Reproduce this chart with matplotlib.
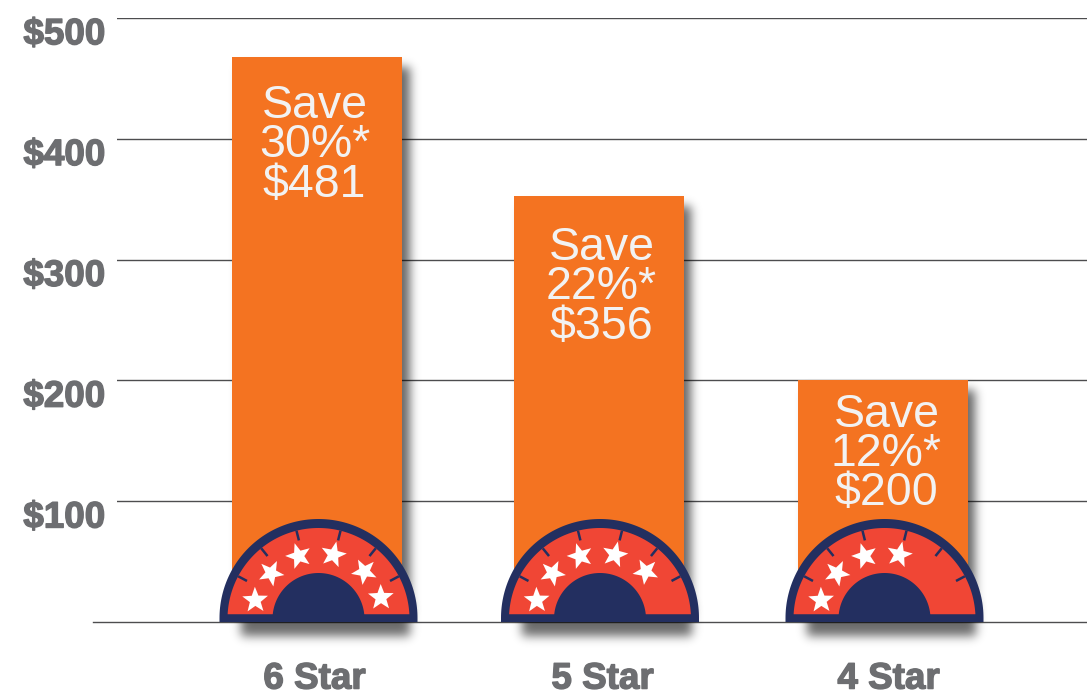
import numpy as np
import matplotlib
matplotlib.use('Agg')
import matplotlib.pyplot as plt
from matplotlib.patches import Polygon
from matplotlib.transforms import Affine2D, ScaledTranslation
import matplotlib.patheffects as pe

categories = ['6 Star', '5 Star', '4 Star']
bar_heights = [468, 353, 200]
save_lines = [['Save', '30%*', '$481'],
              ['Save', '22%*', '$356'],
              ['Save', '12%*', '$200']]
star_counts = [6, 5, 4]
y_ticks = [100, 200, 300, 400, 500]
y_labels = ['$100', '$200', '$300', '$400', '$500']

ORANGE = '#F47321'
RED = '#F04635'
NAVY = '#232F60'
GREY = '#6D6E71'

W, H = 1087, 695
PX_X = 283.0       # pixels per category
PX_Y = 604 / 500   # pixels per dollar
BASE = 622
LEFT = 117
X0 = 316.5         # pixel of first category

# pixel layout of the text inside the bars and the gauge offsets
bar_dx = [0.5, -1, 0]
text_dx = [-2, 2, 4]
text_drop = [140, 143, 125]   # bar top to baseline of the last line
gauge_dx = [2, 0.5, 2]
label_dx = [-2, 3, 6]
star_angles = [163.5, 136, 107.5, 77, 46, 19]
tick_angles = [152, 129, 104, 76, 51, 28]

fig = plt.figure(figsize=(W / 100, H / 100), dpi=100)
ax = fig.add_axes([LEFT / W, (H - BASE) / H, (W - LEFT) / W, 604 / H])
ax.set_ylim(0, 500)
ax.set_xlim((LEFT - X0) / PX_X, (W - X0) / PX_X)
for s in ax.spines.values():
    s.set_visible(False)
ax.set_yticks(y_ticks)
ax.set_yticklabels(y_labels)
ax.set_xticks(range(len(categories)))
ax.set_xticklabels(categories)
ax.tick_params(length=0)
ax.tick_params(axis='y', pad=8.5)
ax.tick_params(axis='x', pad=28.5)
ax.yaxis.grid(True, color='#4d4d4f', lw=1.0, zorder=1)
ax.set_axisbelow(True)

stroke = [pe.withStroke(linewidth=1.0, foreground=GREY)]
for lab in ax.get_yticklabels() + ax.get_xticklabels():
    lab.set_fontfamily('Liberation Sans')
    lab.set_fontweight('bold')
    lab.set_fontsize(26.5)
    lab.set_color(GREY)
    lab.set_path_effects(stroke)
for lab in ax.get_yticklabels():
    lab.set_verticalalignment('top')
    lab.set_transform(lab.get_transform() + ScaledTranslation(0, 0.5 / 72, fig.dpi_scale_trans))
for lab, dx in zip(ax.get_xticklabels(), label_dx):
    lab.set_transform(lab.get_transform() + ScaledTranslation(dx / 100, 0, fig.dpi_scale_trans))

# baseline runs further left than the grid
ax.plot([(93 - X0) / PX_X, (W - X0) / PX_X], [0, 0], color='#4d4d4f', lw=1.0,
        clip_on=False, zorder=1.5)

# shadows are blurred masks on the pixel grid of the figure
yy, xx = np.mgrid[0:H, 0:W] + 0.5
kernel = np.exp(-0.5 * (np.arange(-15, 16) / 5.0) ** 2)
kernel = kernel / kernel.sum()


def blur(mask):
    out = np.apply_along_axis(lambda r: np.convolve(r, kernel, mode='same'), 1, mask)
    return np.apply_along_axis(lambda c: np.convolve(c, kernel, mode='same'), 0, out)


def show_shadow(mask, alpha, z):
    rgba = np.zeros((H, W, 4))
    rgba[..., 3] = blur(mask) * alpha
    ext = [(0 - X0) / PX_X, (W - X0) / PX_X, (BASE - H) / PX_Y, BASE / PX_Y]
    im = ax.imshow(rgba, extent=ext, aspect='auto', zorder=z, interpolation='nearest')
    im.set_clip_on(False)


def star_points(cx, cy, r, rot):
    a = np.radians(90 + rot + np.arange(10) * 36)
    rad = np.where(np.arange(10) % 2 == 0, r, r * 0.42)
    return np.column_stack([cx + rad * np.cos(a), cy + rad * np.sin(a)])


bar_mask = np.zeros((H, W))
gauge_mask = np.zeros((H, W))
for i, h in enumerate(bar_heights):
    cx = X0 + i * PX_X + bar_dx[i] + 8
    bar_mask[(np.abs(xx - cx) < 85) & (yy > BASE - h * PX_Y + 10) & (yy < BASE - 8)] = 1
    gx = X0 + i * PX_X + gauge_dx[i]
    gauge_mask[(xx > gx - 78) & (xx < gx + 92) & (yy > BASE - 20) & (yy < BASE + 14)] = 1
show_shadow(bar_mask, 0.6, 2)
show_shadow(gauge_mask, 0.58, 4)
ax.set_xlim((LEFT - X0) / PX_X, (W - X0) / PX_X)
ax.set_ylim(0, 500)

for i, (cat, h) in enumerate(zip(categories, bar_heights)):
    ax.bar(i + bar_dx[i] / PX_X, h, width=170 / PX_X, color=ORANGE, zorder=3)

    # gauge, drawn in pixels from the middle of the baseline
    g = Affine2D().scale(1 / PX_X, 1 / PX_Y).translate(i + gauge_dx[i] / PX_X, 0) + ax.transData
    t = np.radians(np.linspace(0, 180, 121))
    outer = np.column_stack([99 * np.cos(t), 4 + 99 * np.sin(t)])
    outer = np.vstack([[99, 0], outer, [-99, 0]])
    ax.add_patch(Polygon(outer, closed=True, fc=NAVY, ec='none', transform=g, zorder=5, clip_on=False))

    t2 = np.radians(np.linspace(3, 177, 121))
    red = np.column_stack([91 * np.cos(t2), 3 + 91 * np.sin(t2)])
    ax.add_patch(Polygon(red, closed=True, fc=RED, ec='none', transform=g, zorder=6))

    for ang in tick_angles:
        a = np.radians(ang)
        ax.plot([91 * np.cos(a), 81 * np.cos(a)], [3 + 91 * np.sin(a), 3 + 81 * np.sin(a)],
                color=NAVY, lw=1.8, transform=g, zorder=7, solid_capstyle='butt')

    inner = np.column_stack([46 * np.cos(t), 3 + 46 * np.sin(t)])
    inner = np.vstack([[46, 0], inner, [-46, 0]])
    ax.add_patch(Polygon(inner, closed=True, fc=NAVY, ec='none', transform=g, zorder=7))

    for ang in star_angles[:star_counts[i]]:
        a = np.radians(ang)
        xy = star_points(66 * np.cos(a), 3 + 66 * np.sin(a), 13.5, ang - 90)
        ax.add_patch(Polygon(xy, closed=True, fc='white', ec='none', transform=g, zorder=8))

    # label in the bar
    y_px = h * PX_Y - text_drop[i]
    ax.text(i + text_dx[i] / PX_X, y_px / PX_Y, '\n'.join(save_lines[i]), ha='center',
            va='baseline', multialignment='center', linespacing=0.86,
            color='#F2F2F2', fontsize=33.5, family='Liberation Sans', zorder=9)

fig.savefig('out.png', dpi=100)
